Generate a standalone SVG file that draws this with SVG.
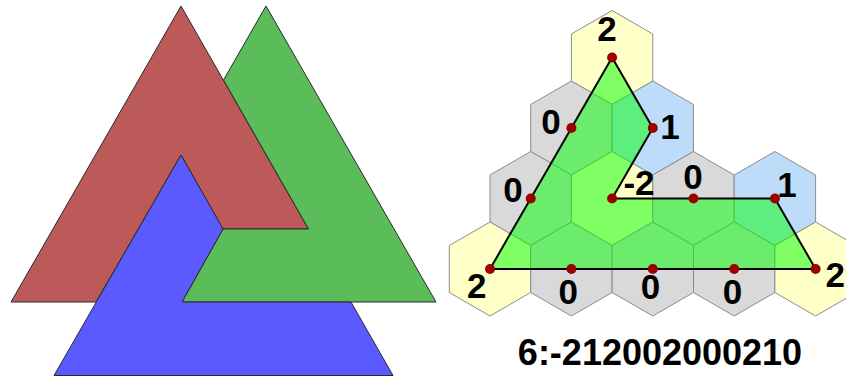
<svg xmlns="http://www.w3.org/2000/svg" xmlns:xlink="http://www.w3.org/1999/xlink" width="846" height="378" viewBox="0 0 846 378">
<style>
.tri{stroke:#2a2a2a;stroke-width:1;stroke-linejoin:miter}
.hy{fill:#ffffc8}.hg{fill:#d9d9d9}.hb{fill:#bddcfa}
.hex{stroke:#8c8c8c;stroke-width:1}
.lbl{font-family:"Liberation Sans",Arial,sans-serif;font-weight:bold;font-size:35px;fill:#000;text-anchor:middle}
.dot{fill:#9b0000}
</style>
<defs>
<polygon id="hex" points="0,-47 40.7,-23.5 40.7,23.5 0,47 -40.7,23.5 -40.7,-23.5"/>
</defs>
<rect width="846" height="378" fill="#fff"/>
<g id="valknut">
<polygon id="red" class="tri" fill="#bc5a5a" points="181,6 308.5,229 223,229 181,155 96,302 11,302"/>
<polygon id="green" class="tri" fill="#5abd5a" points="266,6 436,302 182,302 223,229 308.5,229 223.5,80"/>
<polygon id="blue" class="tri" fill="#5a5aff" points="181,155 223,229 182,302 351,302 393,375.5 54,375.5"/>
</g>
<g id="hexes" class="hex">
<use id="h0" href="#hex" x="612.1" y="57.5" class="hy"/>
<use id="h1" href="#hex" x="571.4" y="128" class="hg"/>
<use id="h2" href="#hex" x="652.8" y="128" class="hb"/>
<use id="h3" href="#hex" x="530.7" y="198.5" class="hg"/>
<use id="h4" href="#hex" x="612.1" y="198.5" class="hy"/>
<use id="h5" href="#hex" x="693.5" y="198.5" class="hg"/>
<use id="h6" href="#hex" x="774.9" y="198.5" class="hb"/>
<use id="h7" href="#hex" x="490" y="269" class="hy"/>
<use id="h8" href="#hex" x="571.4" y="269" class="hg"/>
<use id="h9" href="#hex" x="652.8" y="269" class="hg"/>
<use id="h10" href="#hex" x="734.2" y="269" class="hg"/>
<use id="h11" href="#hex" x="815.6" y="269" class="hy"/>
</g>
<g id="connectors">
<polygon fill="#00ff00" fill-opacity="0.5" stroke="#000" stroke-width="2" stroke-linejoin="miter" points="612.1,57.5 652.8,128 612.1,198.5 693.5,198.5 774.9,198.5 815.6,269 734.2,269 652.8,269 571.4,269 490,269 530.7,198.5 571.4,128"/>
</g>
<g id="dots" class="dot">
<circle cx="612.1" cy="57.5" r="5"/>
<circle cx="652.8" cy="128" r="5"/>
<circle cx="571.4" cy="128" r="5"/>
<circle cx="530.7" cy="198.5" r="5"/>
<circle cx="612.1" cy="198.5" r="5"/>
<circle cx="693.5" cy="198.5" r="5"/>
<circle cx="774.9" cy="198.5" r="5"/>
<circle cx="490" cy="269" r="5"/>
<circle cx="571.4" cy="269" r="5"/>
<circle cx="652.8" cy="269" r="5"/>
<circle cx="734.2" cy="269" r="5"/>
<circle cx="815.6" cy="269" r="5"/>
</g>
<g id="labels" class="lbl">
<text x="607" y="40.5">2</text>
<text x="551" y="134.3">0</text>
<text x="670" y="138.5">1</text>
<text x="513" y="201.7">0</text>
<text x="639" y="195">-2</text>
<text x="693" y="189.3">0</text>
<text x="787" y="196.5">1</text>
<text x="476.7" y="298.3">2</text>
<text x="568.3" y="303.5">0</text>
<text x="650.5" y="298.5">0</text>
<text x="732.5" y="304">0</text>
<text x="835.3" y="286.7">2</text>
<text x="660" y="365" font-size="36">6:-212002000210</text>
</g>
</svg>
